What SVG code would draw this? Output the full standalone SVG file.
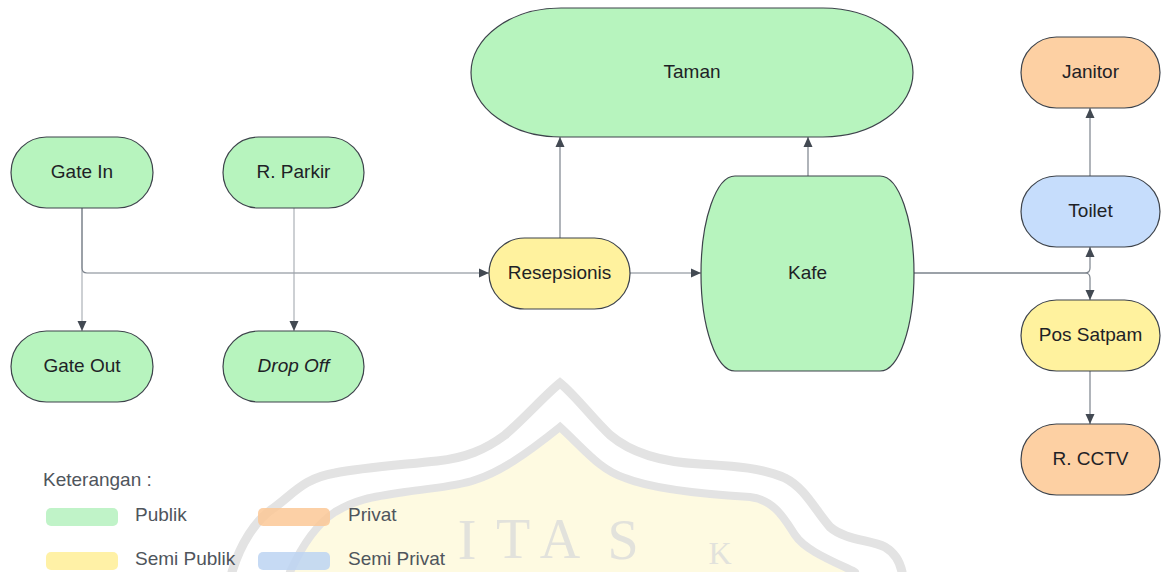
<svg xmlns="http://www.w3.org/2000/svg" width="1161" height="572" viewBox="0 0 1161 572">
  <defs>
    <marker id="arrow" viewBox="0 0 10 10" refX="10" refY="5" markerWidth="10" markerHeight="10" markerUnits="userSpaceOnUse" orient="auto">
      <path d="M0,0.5 L10,5 L0,9.5 Z" fill="#424952"/>
    </marker>
    <style>
      .node { stroke: #3d434b; stroke-width: 1.2; }
      .publik { fill: #b7f4be; }
      .semipublik { fill: #fff29e; }
      .privat { fill: #fdd0a3; }
      .semiprivat { fill: #c6ddfc; }
      .label { font-family: "Liberation Sans", Arial, sans-serif; font-size: 19px; fill: #1e2226; text-anchor: middle; }
      .conn { fill: none; stroke: #7b828b; stroke-width: 1.2; }
      .conn-light { fill: none; stroke: #9ba1a8; stroke-width: 1; }
      .legend { font-family: "Liberation Sans", Arial, sans-serif; font-size: 19px; fill: #4f555c; }
      .band { fill: none; stroke: #e3e3e3; stroke-linecap: round; }
      .wm { font-family: "Liberation Serif", "Times New Roman", serif; font-size: 56px; fill: #e2e2dc; text-anchor: middle; }
      .wm-small { font-size: 32px; }
    </style>
  </defs>

  <rect width="1161" height="572" fill="#ffffff"/>

  <!-- background emblem -->
  <g id="emblem">
    <path d="M 290 572 C 300 550, 315 525, 335 512 C 355 500, 370 497, 405 492 C 430 488, 455 487, 475 480 C 500 472, 525 455, 560 427 C 585 450, 600 470, 625 478 C 650 488, 700 494, 750 497 C 775 500, 785 520, 795 535 C 805 550, 830 560, 855 572 Z" fill="#fefae1"/>
    <path class="band" stroke-width="9" d="M 232 572 C 240 545, 255 520, 275 507 C 295 492, 305 478, 335 473 C 360 468, 400 465, 437 461 C 465 458, 485 450, 505 435 C 525 418, 545 395, 560 383 C 575 395, 592 418, 610 435 C 630 452, 660 462, 700 464 C 730 466, 760 467, 785 478 C 805 488, 815 510, 830 527 C 845 540, 870 540, 885 547 C 895 553, 900 562, 902 572"/>
    <path class="band" stroke-width="8" d="M 290 572 C 300 550, 315 525, 335 512 C 355 500, 370 497, 405 492 C 430 488, 455 487, 475 480 C 500 472, 525 455, 560 427 C 585 450, 600 470, 625 478 C 650 488, 700 494, 750 497 C 775 500, 785 520, 795 535 C 805 550, 830 560, 855 572"/>
    <text class="wm" x="467" y="559">I</text>
    <text class="wm" x="513" y="558">T</text>
    <text class="wm" x="560" y="558">A</text>
    <text class="wm" x="623" y="559">S</text>
    <text class="wm wm-small" x="720" y="564">K</text>
  </g>

  <!-- connectors -->
  <g id="connectors">
    <path class="conn-light" d="M 82 208 V 331" marker-end="url(#arrow)"/>
    <path class="conn" d="M 82 208 V 268 Q 82 273 87 273 H 489" marker-end="url(#arrow)"/>
    <path class="conn-light" d="M 294 208 V 331" marker-end="url(#arrow)"/>
    <path class="conn" d="M 560 238 V 137" marker-end="url(#arrow)"/>
    <path class="conn" d="M 630 273 H 701" marker-end="url(#arrow)"/>
    <path class="conn" d="M 808 176 V 137" marker-end="url(#arrow)"/>
    <path class="conn" d="M 914 273 H 1085 Q 1090 273 1090 268 V 247" marker-end="url(#arrow)"/>
    <path class="conn" d="M 914 273 H 1085 Q 1090 273 1090 278 V 300" marker-end="url(#arrow)"/>
    <path class="conn" d="M 1090 176 V 108" marker-end="url(#arrow)"/>
    <path class="conn" d="M 1090 371 V 424" marker-end="url(#arrow)"/>
  </g>

  <!-- nodes -->
  <g id="gate-in">
    <rect class="node publik" x="11" y="137" width="142" height="71" rx="35.5"/>
    <text class="label" x="82" y="177.5">Gate In</text>
  </g>
  <g id="r-parkir">
    <rect class="node publik" x="223" y="137" width="141" height="71" rx="35.5"/>
    <text class="label" x="293.5" y="177.5">R. Parkir</text>
  </g>
  <g id="gate-out">
    <rect class="node publik" x="11" y="331" width="142" height="71" rx="35.5"/>
    <text class="label" x="82" y="371.5">Gate Out</text>
  </g>
  <g id="drop-off">
    <rect class="node publik" x="223" y="331" width="141" height="71" rx="35.5"/>
    <text class="label" x="293.5" y="371.5" font-style="italic">Drop Off</text>
  </g>
  <g id="taman">
    <rect class="node publik" x="471" y="8" width="442" height="129" rx="90" ry="64.5"/>
    <text class="label" x="692" y="78">Taman</text>
  </g>
  <g id="resepsionis">
    <rect class="node semipublik" x="489" y="238" width="141" height="71" rx="35.5"/>
    <text class="label" x="559.5" y="278.5">Resepsionis</text>
  </g>
  <g id="kafe">
    <rect class="node publik" x="701" y="176" width="213" height="195" rx="34" ry="97.5"/>
    <text class="label" x="807.5" y="278.5">Kafe</text>
  </g>
  <g id="janitor">
    <rect class="node privat" x="1021" y="37" width="139" height="71" rx="35.5"/>
    <text class="label" x="1090.5" y="77.5">Janitor</text>
  </g>
  <g id="toilet">
    <rect class="node semiprivat" x="1021" y="176" width="139" height="71" rx="35.5"/>
    <text class="label" x="1090.5" y="216.5">Toilet</text>
  </g>
  <g id="pos-satpam">
    <rect class="node semipublik" x="1021" y="300" width="139" height="71" rx="35.5"/>
    <text class="label" x="1090.5" y="340.5">Pos Satpam</text>
  </g>
  <g id="r-cctv">
    <rect class="node privat" x="1021" y="424" width="139" height="71" rx="35.5"/>
    <text class="label" x="1090.5" y="464.5">R. CCTV</text>
  </g>

  <!-- legend -->
  <g id="legend">
    <text class="legend" x="43" y="486">Keterangan :</text>
    <rect x="46" y="508" width="72" height="18" rx="5" fill="#b9f2c2" opacity="0.9"/>
    <text class="legend" x="135" y="521">Publik</text>
    <rect x="258" y="508" width="72" height="18" rx="5" fill="#fbc896" opacity="0.85"/>
    <text class="legend" x="348" y="521">Privat</text>
    <rect x="46" y="552" width="72" height="18" rx="5" fill="#ffef9c" opacity="0.9"/>
    <text class="legend" x="135" y="565">Semi Publik</text>
    <rect x="258" y="552" width="72" height="18" rx="5" fill="#bcd4f2" opacity="0.85"/>
    <text class="legend" x="348" y="565">Semi Privat</text>
  </g>
</svg>
